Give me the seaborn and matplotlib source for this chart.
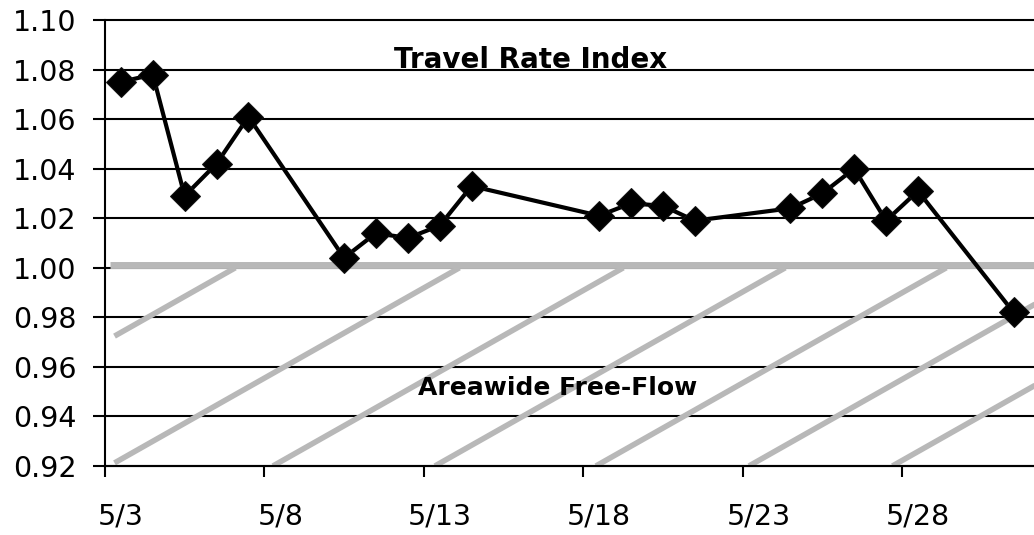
import pandas as pd
import numpy as np
import matplotlib
matplotlib.use('Agg')
import matplotlib.pyplot as plt
import seaborn as sns

# Daily Travel Rate Index values, May 2004 (weekdays only)
dates = ['5/3', '5/4', '5/5', '5/6', '5/7', '5/10', '5/11', '5/12', '5/13', '5/14',
         '5/18', '5/19', '5/20', '5/21', '5/24', '5/25', '5/26', '5/27', '5/28', '5/31']
tri = [1.075, 1.078, 1.029, 1.042, 1.061, 1.004, 1.014, 1.012, 1.017, 1.033,
       1.021, 1.026, 1.025, 1.019, 1.024, 1.030, 1.040, 1.019, 1.031, 0.982]

tick_labels = ['5/3', '5/8', '5/13', '5/18', '5/23', '5/28']
y_ticks = [0.92, 0.94, 0.96, 0.98, 1.00, 1.02, 1.04, 1.06, 1.08, 1.10]

# day offsets (from 5/3) where the free-flow hatch lines meet the 0.92 baseline
hatch_starts = [-6.9, 0.13, 5.27, 10.35, 15.4, 20.2, 24.7]

start = pd.Timestamp('2004-05-03')
df = pd.DataFrame({
    'date': pd.to_datetime(['2004/' + d for d in dates], format='%Y/%m/%d'),
    'TRI': tri,
})
# Excel puts each point in the middle of its day
df['day'] = (df['date'] - start).dt.days + 0.5

sns.set_style('white')
plt.rcParams['font.family'] = ['DejaVu Sans']
plt.rcParams['text.color'] = 'black'
plt.rcParams['xtick.color'] = 'black'
plt.rcParams['ytick.color'] = 'black'
plt.rcParams['xtick.labelcolor'] = 'black'
plt.rcParams['ytick.labelcolor'] = 'black'

fig = plt.figure(figsize=(10.34, 5.35), dpi=100)
ax = fig.add_axes([0.1015, 0.129, 0.8985, 0.8336])

x_max = 29.14
ax.set_xlim(0, x_max)
ax.set_ylim(0.92, 1.10)

# horizontal gridlines
for y in y_ticks:
    ax.axhline(y, color='black', lw=1.5, zorder=1, clip_on=False)

# free-flow hatch region under 1.00
slope = 0.00728
for d0 in hatch_starts:
    x0 = max(d0, 0.3)
    y0 = 0.92 + slope * (x0 - d0)
    x1 = d0 + 0.08 / slope
    ax.plot([x0, x1], [y0, 1.0], color='#b8b8b8', lw=4, solid_capstyle='butt', zorder=2)
ax.plot([0.15, x_max], [1.001, 1.001], color='#b8b8b8', lw=5, solid_capstyle='butt', zorder=2)

sns.lineplot(data=df, x='day', y='TRI', ax=ax, color='black', lw=3,
             marker='D', markersize=15, markeredgecolor='#111111', zorder=4,
             clip_on=False)

ax.text(13.36, 1.0805, 'Travel Rate Index', ha='center', va='baseline',
        fontsize=20, fontweight='bold', color='black', zorder=5)
ax.text(14.2, 0.9487, 'Areawide Free-Flow', ha='center', va='baseline',
        fontsize=18, fontweight='bold', color='black', zorder=5)

# ticks on day boundaries, labels centred on the day
ax.set_xticks(np.arange(0, 26, 5))
ax.set_xticklabels([])
ax.set_xticks(np.arange(0, 26, 5) + 0.5, minor=True)
ax.set_xticklabels(tick_labels, minor=True, fontsize=20.5)
ax.tick_params(axis='x', which='major', direction='out', length=8, width=1.5,
               color='black', bottom=True)
ax.tick_params(axis='x', which='minor', length=0, pad=26)

ax.set_yticks(y_ticks)
ax.set_yticklabels([f'{v:.2f}' for v in y_ticks], fontsize=20.5)
ax.tick_params(axis='y', direction='out', length=8.6, width=1.5, color='black',
               left=True, pad=12)

for side in ['top', 'right']:
    ax.spines[side].set_visible(False)
for side in ['left', 'bottom']:
    ax.spines[side].set_color('black')
    ax.spines[side].set_linewidth(1.5)

ax.set_xlabel('')
ax.set_ylabel('')
ax.grid(False)

fig.savefig('out.png', dpi=100)
